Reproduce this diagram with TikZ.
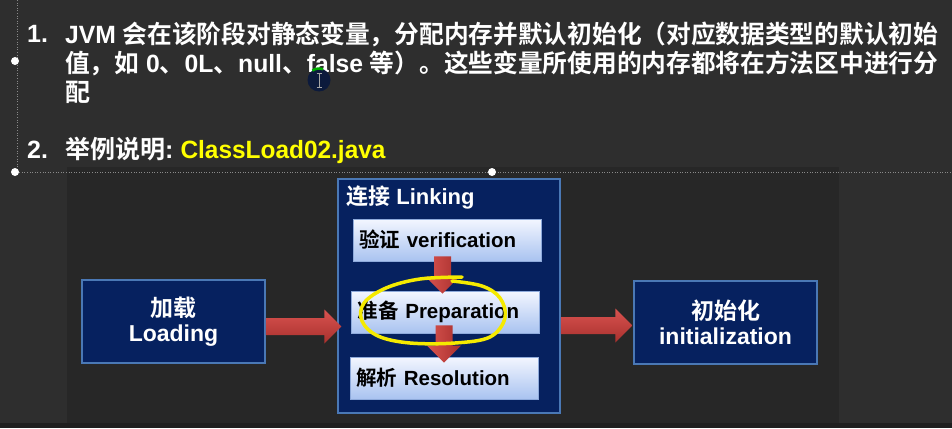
\documentclass[tikz,border=0pt]{standalone}
\usepackage{fontspec}
\usepackage{graphicx}
\usetikzlibrary{calc}
\setmainfont{Liberation Sans}
\newfontfamily\cjk{Noto Sans CJK SC}[BoldFont={Noto Sans CJK SC Bold}]
\newcommand\zh[1]{{\cjk\bfseries #1}}

\definecolor{board}{HTML}{2E2E2E}
\definecolor{boardDark}{HTML}{272727}
\definecolor{boardEdge}{HTML}{1F1F1F}
\definecolor{navy}{HTML}{06215F}
\definecolor{navyEdge}{HTML}{4A78B5}
\definecolor{paleTop}{HTML}{F3F6FF}
\definecolor{paleBot}{HTML}{A9C3F0}
\definecolor{paleEdge}{HTML}{8EAADB}
\definecolor{redTop}{HTML}{D9534F}
\definecolor{redBot}{HTML}{A8302D}
\definecolor{marker}{HTML}{F5EA00}
\definecolor{code}{HTML}{FFFF00}
\definecolor{guide}{HTML}{8A8A8A}
\definecolor{pointer}{HTML}{0C1A3C}

\tikzset{
  bodytext/.style={anchor=base west, inner sep=0pt, text=white,
    font=\fontsize{25}{29}\selectfont\bfseries},
  stagebox/.style={draw=navyEdge, line width=1.5pt, fill=navy, text=white,
    font=\fontsize{23}{25}\selectfont\bfseries, align=center,
    minimum width=183pt, minimum height=83pt, inner sep=0pt},
  linkbox/.style={draw=navyEdge, line width=1.5pt, fill=navy,
    minimum width=222pt, minimum height=234pt, inner sep=0pt},
  substep/.style={draw=paleEdge, line width=0.6pt, top color=paleTop, bottom color=paleBot,
    text=black, font=\fontsize{20.5}{22}\selectfont\bfseries,
    text width=176pt, align=left, inner xsep=6pt, inner ysep=0pt, minimum height=42pt},
  handle/.style={circle, fill=white, inner sep=0pt, minimum size=8pt},
}

% horizontal block arrow: shaft from #1, tip at #2 (same height as #1)
\newcommand\stageArrow[2]{%
  \shade[top color=redTop, bottom color=redBot] let \p1=(#1), \p2=(#2) in
    (\x1,{\y1+8.5pt}) -- ({\x2-17pt},{\y1+8.5pt}) -- ({\x2-17pt},{\y1+17pt}) -- (\x2,\y1)
    -- ({\x2-17pt},{\y1-17pt}) -- ({\x2-17pt},{\y1-8.5pt}) -- (\x1,{\y1-8.5pt}) -- cycle;}
% downward block arrow: shaft from #1, tip at #2 (same column as #1)
\newcommand\stepArrow[2]{%
  \shade[left color=redTop, right color=redBot] let \p1=(#1), \p2=(#2) in
    ({\x1-8.5pt},\y1) -- ({\x1-8.5pt},{\y2+17pt}) -- ({\x1-17pt},{\y2+17pt}) -- (\x1,\y2)
    -- ({\x1+17pt},{\y2+17pt}) -- ({\x1+8.5pt},{\y2+17pt}) -- ({\x1+8.5pt},\y1) -- cycle;}

\begin{document}
\begin{tikzpicture}[x=1pt,y=-1pt]
  \useasboundingbox (0,0) rectangle (952,428);
  % chalkboard
  \fill[board] (0,0) rectangle (952,428);
  \fill[boardEdge] (0,423) rectangle (952,428);
  \fill[boardDark] (67,167) rectangle (839,423);

  % placeholder guides
  \draw[guide, dotted, line width=0.6pt] (17,0) -- (17,172) -- (952,172);

  % bullet text
  \node[bodytext] (n1) at (27,43) {1.};
  \node[bodytext] (l1) at (65,43)
    {\resizebox{873pt}{\height}{JVM \zh{会在该阶段对静态变量，分配内存并默认初始化（对应数据类型的默认初始}}};
  \node[bodytext] (l2) at (65,72)
    {\resizebox{873pt}{\height}{\zh{值，如} 0\zh{、}0L\zh{、}null\zh{、}false \zh{等）。这些变量所使用的内存都将在方法区中进行分}}};
  \node[bodytext] (l3) at (65,101) {\zh{配}};
  \node[bodytext] (n2) at (27,158) {2.};
  \node[bodytext] (l4) at (65,158)
    {\zh{举例说明}:\hspace{7pt}\textcolor{code}{\resizebox{205pt}{\height}{ClassLoad02.java}}};

  % class loading stages
  \node[stagebox] (load) at (173.5,321.5) {\zh{加载}\\Loading};
  \node[linkbox] (link) at (449,296) {};
  \node[anchor=west, inner sep=0pt, text=white, font=\fontsize{22}{24}\selectfont\bfseries]
    (linktitle) at (346,197) {\zh{连接} Linking};
  \node[substep] (verif) at (447,240) {\zh{验证} verification};
  \node[substep] (prep) at (445.5,312) {\zh{准备} Preparation};
  \node[substep] (res) at (444,378) {\zh{解析} Resolution};
  \node[stagebox] (init) at (725.5,322.5) {\zh{初始化}\\initialization};

  % arrows between stages
  \coordinate (a1s) at ($(load.east)+(0,5)$);
  \coordinate (a1e) at ($(a1s -| link.west)+(4,0)$);
  \stageArrow{a1s}{a1e}
  \coordinate (a2s) at ($(init.west -| link.east)+(0,3)$);
  \coordinate (a2e) at ($(init.west)+(-1,3)$);
  \stageArrow{a2s}{a2e}
  \coordinate (vAs) at ($(verif.south)+(-4.5,-5)$);
  \coordinate (vAe) at ($(vAs |- prep.north)+(0,3)$);
  \stepArrow{vAs}{vAe}
  \coordinate (vBs) at ($(prep.south)+(-1.5,-8)$);
  \coordinate (vBe) at ($(vBs |- res.north)+(0,6)$);
  \stepArrow{vBs}{vBe}

  % marker loop around the preparation step
  \draw[marker, line width=3.5pt, line cap=round, line join=round]
    plot[smooth, tension=0.6] coordinates {(462,277) (420,279) (386,288) (364,303) (362,321)
      (378,336) (410,343) (455,343) (490,337) (505,318) (500,298) (482,286) (452,281)};

  % selection handles
  \node[handle] (h1) at (15,61) {};
  \node[handle] (h2) at (15,172) {};
  \node[handle] (h3) at (492,172) {};

  % mouse pointer
  \fill[pointer] (319,80) circle (11.5);
  \draw[green!70!black, line width=2.5pt] ([shift={(319,80)}]-125:11.5) arc[start angle=-125, end angle=-70, radius=11.5];
  \draw[gray!70, line width=0.8pt] (319,73) -- (319,87) (316.5,73) -- (321.5,73) (316.5,87) -- (321.5,87);
\end{tikzpicture}
\end{document}
